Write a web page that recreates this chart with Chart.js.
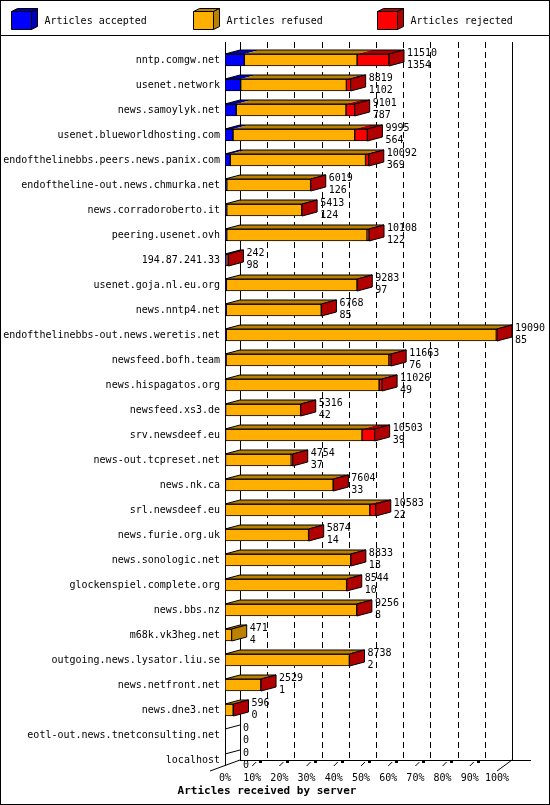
<!DOCTYPE html>
<html>
<head>
<meta charset="utf-8">
<script src="https://cdn.jsdelivr.net/npm/chart.js@4/dist/chart.umd.min.js"></script>
<style>
  html, body { margin: 0; padding: 0; background: #fff; }
  canvas { display: block; }
</style>
</head>
<body>
<canvas id="chart" width="550" height="805"></canvas>
<script>
const servers = [
    'nntp.comgw.net',
    'usenet.network',
    'news.samoylyk.net',
    'usenet.blueworldhosting.com',
    'endofthelinebbs.peers.news.panix.com',
    'endoftheline-out.news.chmurka.net',
    'news.corradoroberto.it',
    'peering.usenet.ovh',
    '194.87.241.33',
    'usenet.goja.nl.eu.org',
    'news.nntp4.net',
    'endofthelinebbs-out.news.weretis.net',
    'newsfeed.bofh.team',
    'news.hispagatos.org',
    'newsfeed.xs3.de',
    'srv.newsdeef.eu',
    'news-out.tcpreset.net',
    'news.nk.ca',
    'srl.newsdeef.eu',
    'news.furie.org.uk',
    'news.sonologic.net',
    'glockenspiel.complete.org',
    'news.bbs.nz',
    'm68k.vk3heg.net',
    'outgoing.news.lysator.liu.se',
    'news.netfront.net',
    'news.dne3.net',
    'eotl-out.news.tnetconsulting.net',
    'localhost'
];

let accepted = [1354, 1102, 787, 564, 369, 126, 124, 122, 98, 97, 85, 85, 76, 49, 42,
    39, 37, 33, 22, 14, 13, 10, 8, 4, 2, 1, 0, 0, 0];
let refused = [7916, 7417, 7704, 8541, 9493, 5881, 5269, 9846, 60, 9174, 6673, 18955, 11427, 10767, 5264,
    9574, 4607, 7561, 10141, 5850, 8810, 8524, 9238, 467, 8726, 2518, 576, 0, 0];
let rejected = [2240, 300, 610, 890, 230, 12, 20, 140, 84, 12, 10, 50, 160, 210, 10,
    890, 110, 10, 420, 10, 10, 10, 10, 0, 10, 10, 20, 0, 0];

let seriesNames = ['Articles accepted', 'Articles refused', 'Articles rejected'];
let axisTitle = 'Articles received by server';

let frontColors = ['#0000ff', '#ffaf00', '#ff0000'];
let darkColors = ['#0000b4', '#bb8000', '#b00000'];

let totals = servers.map((s, i) => accepted[i] + refused[i] + rejected[i]);
let maxTotal = Math.max(...totals);

// depth of the fake 3d
const DX = 15;
const DY = 4;
const FONT = '"DejaVu Sans Mono", monospace';

function poly(ctx, pts, fill) {
    ctx.beginPath();
    ctx.moveTo(pts[0][0], pts[0][1]);
    for (let k = 1; k < pts.length; k++) ctx.lineTo(pts[k][0], pts[k][1]);
    ctx.closePath();
    if (fill) {
        ctx.fillStyle = fill;
        ctx.fill();
    }
    ctx.stroke();
}

let box3d = {
    id: 'box3d',
    beforeDraw(chart) {
        let ctx = chart.ctx;
        ctx.save();
        ctx.fillStyle = '#fff';
        ctx.fillRect(0, 0, chart.width, chart.height);
        ctx.restore();
    },
    beforeDatasetsDraw(chart) {
        let ctx = chart.ctx;
        let xs = chart.scales.x;
        let area = chart.chartArea;
        let x0 = xs.getPixelForValue(0);
        let x1 = xs.getPixelForValue(maxTotal);
        let top = 42;
        let backFloor = area.bottom - 12.5;
        let frontFloor = area.bottom - 1.5;

        ctx.save();
        ctx.strokeStyle = '#000';
        ctx.lineWidth = 1;

        // dashed lines on the back wall
        ctx.setLineDash([6, 4]);
        for (let k = 1; k < 10; k++) {
            let x = Math.round(xs.getPixelForValue(k * maxTotal / 10) + DX) + 0.5;
            ctx.beginPath();
            ctx.moveTo(x, top);
            ctx.lineTo(x, backFloor);
            ctx.stroke();
        }
        ctx.setLineDash([]);

        // walls and floor
        ctx.beginPath();
        ctx.moveTo(Math.round(x0) + 0.5, top);
        ctx.lineTo(Math.round(x0) + 0.5, frontFloor - 5.5);
        ctx.moveTo(Math.round(x0 + DX) + 0.5, top);
        ctx.lineTo(Math.round(x0 + DX) + 0.5, backFloor);
        ctx.moveTo(Math.round(x1 + DX) + 0.5, top);
        ctx.lineTo(Math.round(x1 + DX) + 0.5, backFloor);
        ctx.moveTo(x0 + DX, backFloor + 0.5);
        ctx.lineTo(x1 + DX + 19, backFloor + 0.5);
        ctx.moveTo(x0 - DX, frontFloor);
        ctx.lineTo(x0 + DX, backFloor);
        ctx.moveTo(x1, frontFloor);
        ctx.lineTo(x1 + DX, backFloor);
        ctx.stroke();

        // little tick marks on the floor
        ctx.fillStyle = '#000';
        for (let k = 1; k < 10; k++) {
            let x = xs.getPixelForValue(k * maxTotal / 10);
            ctx.beginPath();
            ctx.moveTo(x, frontFloor - 5);
            ctx.lineTo(x + 4, frontFloor - 9);
            ctx.stroke();
            ctx.fillRect(Math.round(x + 7), Math.round(frontFloor - 11), 3, 3);
        }
        ctx.restore();
    },
    afterDatasetsDraw(chart) {
        let ctx = chart.ctx;
        let xs = chart.scales.x;
        let x0 = xs.getPixelForValue(0);
        let nSets = chart.data.datasets.length;

        ctx.save();
        ctx.strokeStyle = '#000';
        ctx.lineWidth = 1;

        servers.forEach((name, i) => {
            let first = chart.getDatasetMeta(0).data[i];
            let yc = first.y;
            let h = first.height;
            let t = yc - h / 2;
            let b = yc + h / 2;
            let end = xs.getPixelForValue(totals[i]);

            if (totals[i] === 0) {
                ctx.beginPath();
                ctx.moveTo(x0, t);
                ctx.lineTo(x0 + DX, t - DY);
                ctx.stroke();
            } else {
                let last = 0;
                for (let d = 0; d < nSets; d++) {
                    let el = chart.getDatasetMeta(d).data[i];
                    let a = Math.min(el.base, el.x);
                    let c = Math.max(el.base, el.x);
                    if (chart.data.datasets[d].data[i] > 0) last = d;
                    if (c - a <= 0) continue;
                    ctx.beginPath();
                    ctx.moveTo(a, t);
                    ctx.lineTo(c, t);
                    ctx.lineTo(c + DX, t - DY);
                    ctx.lineTo(a + DX, t - DY);
                    ctx.closePath();
                    ctx.fillStyle = darkColors[d];
                    ctx.fill();
                }
                // top outline
                poly(ctx, [[x0, t], [end, t], [end + DX, t - DY], [x0 + DX, t - DY]], null);
                // side
                poly(ctx, [[end, t], [end + DX, t - DY], [end + DX, b - DY], [end, b]], darkColors[last]);
            }

            // value labels: total and accepted
            ctx.fillStyle = '#000';
            ctx.font = '10px ' + FONT;
            ctx.textAlign = 'left';
            ctx.textBaseline = 'middle';
            ctx.fillText(String(totals[i]), end + DX + 3, yc - 6.5);
            ctx.fillText(String(accepted[i]), end + DX + 3, yc + 5.5);
        });
        ctx.restore();
    },
    afterDraw(chart) {
        let ctx = chart.ctx;
        ctx.save();
        ctx.strokeStyle = '#000';
        ctx.lineWidth = 1;

        // frame and legend separator
        ctx.strokeRect(0.5, 0.5, chart.width - 1, chart.height - 1);
        ctx.beginPath();
        ctx.moveTo(0, 35.5);
        ctx.lineTo(chart.width, 35.5);
        ctx.stroke();

        // legend with little cubes
        let legendX = [11, 193, 377];
        chart.data.datasets.forEach((ds, d) => {
            let lx = legendX[d] + 0.5;
            let ly = 11.5;
            let w = 20, h = 18, dx = 6, dy = 3;
            poly(ctx, [[lx, ly], [lx + w, ly], [lx + w + dx, ly - dy], [lx + dx, ly - dy]], darkColors[d]);
            poly(ctx, [[lx + w, ly], [lx + w + dx, ly - dy], [lx + w + dx, ly + h - dy], [lx + w, ly + h]], darkColors[d]);
            poly(ctx, [[lx, ly], [lx + w, ly], [lx + w, ly + h], [lx, ly + h]], frontColors[d]);
            ctx.fillStyle = '#000';
            ctx.font = '10px ' + FONT;
            ctx.textAlign = 'left';
            ctx.textBaseline = 'middle';
            ctx.fillText(ds.label, lx + w + 13, 21);
        });

        // axis title
        ctx.font = 'bold 11px ' + FONT;
        ctx.textAlign = 'center';
        ctx.textBaseline = 'middle';
        ctx.fillStyle = '#000';
        ctx.fillText(axisTitle, 267, 791);
        ctx.restore();
    }
};

let datasets = seriesNames.map((name, d) => ({
    label: name,
    data: [accepted, refused, rejected][d],
    backgroundColor: frontColors[d],
    borderColor: '#000',
    borderWidth: 1,
    borderSkipped: false,
    barThickness: 12
}));

let config = {
    type: 'bar',
    data: {
        labels: servers,
        datasets: datasets
    },
    options: {
        indexAxis: 'y',
        responsive: false,
        animation: false,
        devicePixelRatio: 1,
        layout: {
            padding: { top: 47.5, right: 53, bottom: 0, left: 0 }
        },
        plugins: {
            legend: { display: false },
            tooltip: { enabled: false }
        },
        scales: {
            x: {
                stacked: true,
                min: 0,
                max: maxTotal,
                grid: { display: false, drawTicks: false },
                border: { display: false },
                afterBuildTicks: scale => {
                    scale.ticks = [0, 1, 2, 3, 4, 5, 6, 7, 8, 9, 10].map(k => ({ value: k * maxTotal / 10 }));
                },
                afterFit: scale => { scale.height = 32.5; },
                ticks: {
                    font: { family: FONT, size: 10 },
                    color: '#000',
                    padding: 0,
                    maxRotation: 0,
                    autoSkip: false,
                    callback: v => Math.round(v / maxTotal * 100) + '%'
                }
            },
            y: {
                stacked: true,
                grid: { display: false, drawTicks: false },
                border: { display: false },
                afterFit: scale => { scale.width = 225; },
                ticks: {
                    font: { family: FONT, size: 10 },
                    color: '#000',
                    padding: 5,
                    autoSkip: false
                }
            }
        }
    },
    plugins: [box3d]
};

let myChart = new Chart(document.getElementById('chart'), config);
</script>
</body>
</html>
